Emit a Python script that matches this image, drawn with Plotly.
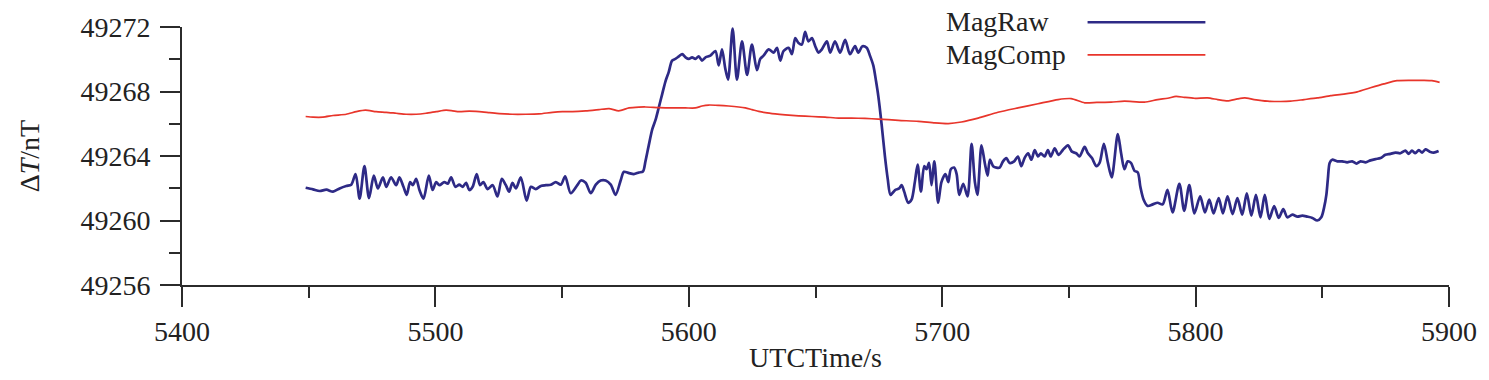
import plotly.graph_objects as go

# ---------------- data ----------------
raw_time = [5448.8, 5451.7, 5454.3, 5457.0, 5459.6, 5462.2, 5464.8, 5466.8, 5468.5, 5470.1,
            5472.0, 5473.8, 5475.7, 5477.3, 5479.3, 5480.6, 5482.5, 5484.5, 5485.8, 5487.4,
            5488.7, 5490.0, 5491.1, 5492.4, 5493.7, 5495.3, 5497.4, 5498.9, 5500.3, 5501.6,
            5503.5, 5504.9, 5506.2, 5507.9, 5509.4, 5510.8, 5512.1, 5513.4, 5514.7, 5516.3,
            5517.6, 5518.9, 5520.6, 5522.6, 5524.5, 5526.2, 5527.8, 5529.1, 5530.4, 5531.8,
            5533.7, 5536.0, 5537.7, 5539.6, 5541.6, 5543.6, 5545.5, 5547.5, 5549.5, 5551.2,
            5553.4, 5556.0, 5557.4, 5559.3, 5561.3, 5563.3, 5565.2, 5567.2, 5569.2, 5571.1,
            5573.1, 5574.4, 5576.4, 5578.3, 5580.3, 5581.9, 5582.9, 5584.2, 5585.6, 5586.9,
            5588.2, 5589.5, 5590.8, 5592.1, 5593.4, 5594.7, 5596.1, 5597.4, 5598.7, 5600.0,
            5601.3, 5602.6, 5603.9, 5605.2, 5606.6, 5608.5, 5610.5, 5611.8, 5613.1, 5614.4,
            5615.5, 5617.3, 5619.0, 5621.0, 5623.0, 5624.9, 5626.9, 5628.2, 5629.5, 5631.5,
            5633.5, 5634.8, 5636.1, 5637.4, 5639.4, 5640.7, 5642.0, 5643.3, 5644.6, 5645.9,
            5647.2, 5648.6, 5649.9, 5651.2, 5652.5, 5654.5, 5655.8, 5657.7, 5659.7, 5661.7,
            5663.6, 5665.6, 5666.9, 5668.5, 5670.2, 5671.5, 5672.8, 5673.9, 5674.8, 5676.1,
            5677.4, 5678.5, 5679.6, 5681.4, 5683.0, 5684.0, 5685.0, 5686.6, 5687.9, 5689.2,
            5690.3, 5691.6, 5692.9, 5693.8, 5694.8, 5695.8, 5696.9, 5698.4, 5699.7, 5701.3,
            5702.4, 5703.4, 5704.7, 5705.7, 5706.7, 5708.3, 5710.0, 5711.6, 5712.9, 5713.9,
            5715.5, 5716.8, 5717.9, 5718.8, 5720.1, 5721.4, 5722.7, 5724.0, 5725.3, 5726.6,
            5728.4, 5729.9, 5731.2, 5732.5, 5733.9, 5735.2, 5736.5, 5737.8, 5738.9, 5740.4,
            5741.7, 5742.8, 5744.4, 5745.9, 5747.6, 5749.6, 5751.2, 5752.9, 5754.2, 5756.2,
            5757.5, 5759.1, 5760.8, 5762.1, 5763.8, 5765.4, 5766.9, 5769.3, 5770.6, 5771.9,
            5773.2, 5774.5, 5775.9, 5777.2, 5778.2, 5779.5, 5781.1, 5783.1, 5785.0, 5787.0,
            5788.9, 5790.9, 5793.6, 5795.5, 5797.5, 5799.5, 5801.8, 5803.7, 5805.4, 5807.1,
            5809.1, 5810.8, 5812.6, 5814.6, 5816.5, 5818.4, 5820.2, 5822.0, 5823.8, 5825.6,
            5827.3, 5829.1, 5831.0, 5832.8, 5834.6, 5836.2, 5838.2, 5840.2, 5842.1, 5844.1,
            5846.1, 5848.0, 5849.6, 5850.7, 5851.6, 5852.2, 5852.9, 5853.9, 5855.9, 5857.9,
            5859.8, 5861.8, 5863.5, 5865.1, 5867.1, 5869.0, 5871.0, 5873.0, 5874.9, 5876.9,
            5878.9, 5880.8, 5882.8, 5884.1, 5885.4, 5886.7, 5888.1, 5889.4, 5890.7, 5892.4,
            5894.0, 5895.9]

raw_val = [49262.03, 49261.93, 49261.83, 49261.91, 49261.79, 49261.99, 49262.14, 49262.22, 49262.88, 49261.35,
           49263.37, 49261.39, 49262.78, 49261.99, 49262.68, 49262.09, 49262.68, 49262.19, 49262.68, 49262.09,
           49261.59, 49262.38, 49262.19, 49262.58, 49261.89, 49261.35, 49262.78, 49261.89, 49262.38, 49262.19,
           49262.38, 49262.28, 49262.68, 49262.09, 49262.22, 49262.09, 49262.34, 49261.89, 49262.09, 49262.88,
           49262.19, 49262.38, 49261.95, 49262.19, 49261.49, 49262.58, 49262.19, 49261.79, 49262.34, 49261.99,
           49262.68, 49261.23, 49262.09, 49261.95, 49262.14, 49262.19, 49262.22, 49262.38, 49262.22, 49262.74,
           49261.69, 49262.19, 49262.48, 49262.34, 49261.69, 49262.22, 49262.48, 49262.48, 49262.22, 49261.59,
           49262.48, 49263.02, 49262.94, 49262.88, 49262.98, 49263.04, 49263.67, 49264.66, 49265.66, 49266.25,
           49267.04, 49267.84, 49268.63, 49269.22, 49269.92, 49270.02, 49270.18, 49270.32, 49270.12, 49270.02,
           49270.12, 49270.02, 49270.18, 49269.92, 49270.12, 49270.22, 49270.51, 49269.62, 49270.61, 49269.42,
           49268.73, 49271.90, 49268.73, 49271.11, 49269.03, 49270.91, 49269.32, 49270.02, 49270.22, 49270.61,
           49270.41, 49270.71, 49269.92, 49270.51, 49270.71, 49270.31, 49271.31, 49271.01, 49270.91, 49271.70,
           49271.11, 49271.31, 49270.81, 49270.41, 49270.61, 49271.11, 49270.41, 49271.11, 49270.41, 49271.21,
           49270.31, 49270.81, 49270.41, 49270.81, 49270.71, 49270.22, 49269.62, 49268.63, 49267.70, 49265.95,
           49263.97, 49262.58, 49261.59, 49261.89, 49261.99, 49262.19, 49261.79, 49261.10, 49261.29, 49262.38,
           49263.47, 49261.79, 49263.37, 49263.18, 49263.57, 49262.19, 49263.67, 49261.10, 49262.38, 49262.88,
           49262.38, 49263.18, 49263.28, 49262.88, 49261.59, 49262.28, 49261.49, 49264.76, 49262.38, 49261.59,
           49264.66, 49263.57, 49262.78, 49263.77, 49263.37, 49263.28, 49263.28, 49263.67, 49263.87, 49263.57,
           49263.67, 49263.97, 49263.37, 49263.87, 49264.17, 49263.77, 49264.37, 49263.97, 49264.17, 49263.97,
           49264.37, 49263.97, 49264.47, 49264.07, 49264.37, 49264.66, 49264.27, 49264.17, 49263.97, 49264.56,
           49264.17, 49263.87, 49263.37, 49263.57, 49264.76, 49263.57, 49262.68, 49265.36, 49264.17, 49263.18,
           49263.67, 49263.57, 49263.08, 49262.98, 49262.09, 49261.29, 49260.90, 49261.00, 49261.10, 49261.00,
           49261.90, 49260.50, 49262.28, 49260.60, 49262.19, 49260.44, 49261.49, 49260.50, 49261.29, 49260.44,
           49261.39, 49260.44, 49261.49, 49260.40, 49261.39, 49260.36, 49261.69, 49260.30, 49261.59, 49260.20,
           49261.59, 49260.10, 49260.90, 49260.16, 49260.70, 49260.20, 49260.36, 49260.24, 49260.30, 49260.24,
           49260.16, 49260.00, 49260.20, 49260.80, 49261.59, 49262.58, 49263.57, 49263.77, 49263.67, 49263.67,
           49263.61, 49263.67, 49263.53, 49263.67, 49263.61, 49263.73, 49263.81, 49263.87, 49264.07, 49264.13,
           49264.21, 49264.17, 49264.33, 49264.13, 49264.33, 49264.17, 49264.37, 49264.21, 49264.41, 49264.27,
           49264.21, 49264.31]

comp_time = [5448.8, 5451.7, 5455.6, 5459.6, 5464.8, 5468.8, 5472.4, 5476.6, 5480.6, 5484.5,
             5488.4, 5492.4, 5496.3, 5500.3, 5504.2, 5506.8, 5509.4, 5513.4, 5517.3, 5521.3,
             5525.2, 5530.4, 5535.7, 5540.9, 5546.2, 5550.1, 5554.1, 5559.3, 5564.6, 5568.5,
             5572.4, 5576.4, 5580.3, 5582.9, 5588.2, 5593.4, 5598.7, 5602.6, 5605.2, 5607.9,
             5611.8, 5615.7, 5619.7, 5622.3, 5624.9, 5627.6, 5630.2, 5634.1, 5638.1, 5643.3,
             5648.6, 5653.8, 5659.1, 5664.3, 5669.5, 5674.8, 5682.7, 5690.6, 5697.1, 5702.4,
             5707.6, 5714.2, 5722.0, 5729.9, 5737.8, 5745.7, 5750.9, 5756.2, 5761.0, 5766.7,
             5771.9, 5779.8, 5785.0, 5789.0, 5792.3, 5795.5, 5799.5, 5804.7, 5808.7, 5812.6,
             5816.5, 5819.4, 5823.1, 5828.4, 5833.6, 5837.5, 5842.8, 5848.0, 5853.3, 5858.5,
             5863.8, 5869.0, 5874.3, 5879.5, 5884.8, 5890.0, 5893.3, 5896.3]

comp_val = [49266.45, 49266.41, 49266.41, 49266.51, 49266.59, 49266.75, 49266.84, 49266.75, 49266.71, 49266.65,
            49266.59, 49266.59, 49266.65, 49266.75, 49266.84, 49266.80, 49266.75, 49266.78, 49266.75, 49266.69,
            49266.63, 49266.59, 49266.59, 49266.61, 49266.71, 49266.75, 49266.75, 49266.80, 49266.88, 49266.94,
            49266.80, 49266.98, 49267.03, 49267.04, 49267.00, 49266.98, 49266.98, 49266.98, 49267.10, 49267.16,
            49267.14, 49267.10, 49267.04, 49266.98, 49266.88, 49266.77, 49266.69, 49266.61, 49266.55, 49266.49,
            49266.45, 49266.41, 49266.35, 49266.35, 49266.33, 49266.29, 49266.21, 49266.15, 49266.05, 49266.01,
            49266.11, 49266.35, 49266.71, 49266.98, 49267.24, 49267.50, 49267.56, 49267.30, 49267.32, 49267.34,
            49267.40, 49267.34, 49267.50, 49267.58, 49267.70, 49267.64, 49267.58, 49267.60, 49267.50, 49267.42,
            49267.54, 49267.60, 49267.50, 49267.40, 49267.38, 49267.40, 49267.50, 49267.60, 49267.74, 49267.84,
            49267.98, 49268.23, 49268.47, 49268.67, 49268.69, 49268.69, 49268.67, 49268.57]

series_names = ["MagRaw", "MagComp"]
series_colors = ["#2e2a86", "#e8352b"]
y_ticks = [49256, 49260, 49264, 49268, 49272]
x_ticks = [5400, 5500, 5600, 5700, 5800, 5900]

# ---------------- figure ----------------
FONT = "Liberation Serif, Times New Roman, serif"
W, H = 1489, 380
L, R, T, B = 182, 38, 25, 86
pw, ph = W - L - R, H - T - B

fig = go.Figure()
fig.add_trace(go.Scatter(x=raw_time, y=raw_val, mode="lines", name=series_names[0],
                         line=dict(color=series_colors[0], width=2.7, shape="spline", smoothing=0.8),
                         showlegend=False))
fig.add_trace(go.Scatter(x=comp_time, y=comp_val, mode="lines", name=series_names[1],
                         line=dict(color=series_colors[1], width=1.7, shape="spline", smoothing=0.6),
                         showlegend=False))

axis_common = dict(showgrid=False, zeroline=False, showline=True, linecolor="#2b2b2b",
                   linewidth=2, ticks="outside", ticklen=20, tickwidth=2, tickcolor="#2b2b2b",
                   tickfont=dict(family=FONT, size=28, color="#222222"))

fig.update_xaxes(range=[5400, 5900], tickvals=x_ticks, ticktext=[str(v) for v in x_ticks],
                 minor=dict(dtick=50, tick0=5400, ticklen=11, tickwidth=2, tickcolor="#2b2b2b", ticks="outside"),
                 title=dict(text="UTCTime/s", font=dict(family=FONT, size=28, color="#222222"), standoff=2),
                 **axis_common)
fig.update_yaxes(range=[49256, 49272], tickvals=y_ticks, ticktext=[str(v) for v in y_ticks],
                 ticklabelstandoff=4,
                 minor=dict(dtick=2, tick0=49256, ticklen=11, tickwidth=2, tickcolor="#2b2b2b", ticks="outside"),
                 title=dict(text="Δ<i>T</i>/nT", font=dict(family=FONT, size=28, color="#222222"), standoff=33),
                 **axis_common)

def px_x(p):
    return (p - L) / pw

def px_y(p):
    return (H - B - p) / ph

# legend: text on the left, line sample on the right
legend_rows = [(series_names[0], series_colors[0], 19, 20, 2.6),
               (series_names[1], series_colors[1], 54, 54, 1.7)]
for name, color, ty, ly, lw in legend_rows:
    fig.add_annotation(text=name, xref="paper", yref="paper", x=px_x(945), y=px_y(ty),
                       xanchor="left", yanchor="middle", showarrow=False,
                       font=dict(family=FONT, size=28, color="#222222"))
    fig.add_shape(type="line", xref="paper", yref="paper", x0=px_x(1089), x1=px_x(1207),
                  y0=px_y(ly), y1=px_y(ly), line=dict(color=color, width=lw))

fig.update_layout(width=W, height=H, margin=dict(l=L, r=R, t=T, b=B, pad=0),
                  paper_bgcolor="white", plot_bgcolor="white",
                  font=dict(family=FONT, size=28, color="#222222"))

fig.write_html("out.html", config={"displayModeBar": False},
               post_script="document.body.style.margin='0';document.body.style.overflow='hidden';")
